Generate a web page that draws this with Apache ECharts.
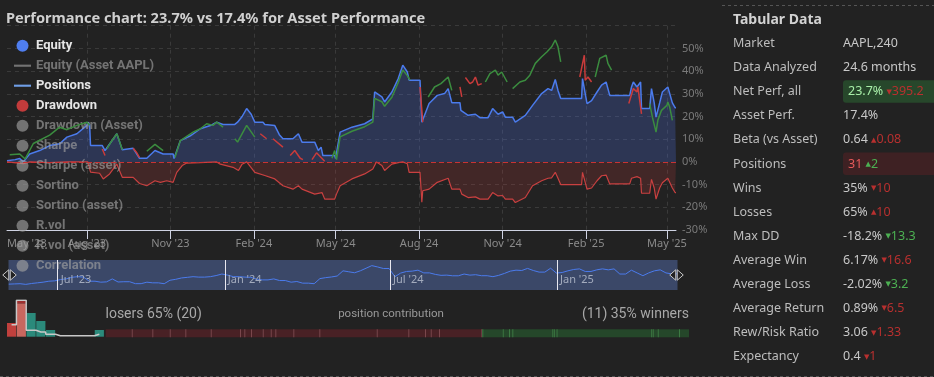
<!DOCTYPE html>
<html>
<head>
<meta charset="utf-8">
<style>
html,body{margin:0;padding:0;background:#222;}
#chart{width:934px;height:377px;}
</style>
<script src="https://cdn.jsdelivr.net/npm/echarts@6/dist/echarts.min.js"></script>
</head>
<body>
<div id="chart"></div>
<script>
// ---- data ----
const titleText = 'Performance chart: 23.7% vs 17.4% for Asset Performance';
const startDate = '2023-05-05';
const endDate = '2025-05-11';

const equity = [
  ['2023-05-05',0.5],['2023-05-14',1],['2023-05-19',1.5],['2023-05-23',0],['2023-05-27',2],['2023-05-30',3.5],
  ['2023-06-10',5],['2023-06-21',7.2],['2023-07-02',8],['2023-07-10',10.9],['2023-07-21',12.4],['2023-08-01',16.1],
  ['2023-08-02',17.5],['2023-08-04',16.5],['2023-08-05',7.2],['2023-08-18',7.2],['2023-08-21',5],['2023-08-23',5.7],
  ['2023-09-03',12.4],['2023-09-09',5.4],['2023-09-10',6],['2023-09-21',6],['2023-09-28',1.6],['2023-10-06',1.6],
  ['2023-10-15',5],['2023-10-24',3.5],['2023-11-04',3.5],['2023-11-05',1.5],['2023-11-12',9.4],['2023-11-23',11.5],
  ['2023-12-04',14.6],['2023-12-15',16],['2023-12-22',17.5],['2023-12-29',16.5],['2024-01-11',16.5],['2024-01-14',17.5],
  ['2024-01-19',20],['2024-01-24',23.5],['2024-01-29',21],['2024-02-02',17.5],['2024-02-11',17.5],['2024-02-13',16.5],
  ['2024-02-24',16],['2024-02-29',12],['2024-03-04',10.2],['2024-03-15',10.2],['2024-03-21',12.4],['2024-03-25',8.7],
  ['2024-04-08',8.7],['2024-04-12',5],['2024-04-15',6.5],['2024-04-17',2.8],['2024-04-30',2.8],['2024-05-01',1.5],
  ['2024-05-06',13.1],['2024-05-19',15.3],['2024-06-02',16.8],['2024-06-11',19],['2024-06-13',30.8],['2024-06-21',28.6],
  ['2024-06-24',26.4],['2024-07-02',30.8],['2024-07-09',36.7],['2024-07-14',42.6],['2024-07-19',39.6],['2024-07-21',36],
  ['2024-08-02',36],['2024-08-04',17.5],['2024-08-12',25.7],['2024-08-21',29.3],['2024-08-29',30.1],['2024-09-02',32.3],
  ['2024-09-06',26.1],['2024-09-15',26.1],['2024-09-16',22.7],['2024-09-24',20.5],['2024-10-02',21],['2024-10-07',19.5],
  ['2024-10-16',19.5],['2024-10-21',23.5],['2024-10-27',21],['2024-11-01',22],['2024-11-04',19.7],['2024-11-12',19.7],
  ['2024-11-15',17.5],['2024-11-26',20.5],['2024-12-04',24.9],['2024-12-14',30.1],['2024-12-21',32.3],['2024-12-25',31.5],
  ['2024-12-29',36.3],['2025-01-01',31.5],['2025-01-04',27.9],['2025-01-27',27.9],['2025-01-28',36.7],['2025-02-02',25.7],
  ['2025-02-07',27],['2025-02-13',30.8],['2025-02-18',33.8],['2025-02-23',35.2],['2025-02-27',29.3],['2025-03-21',29.3],
  ['2025-03-23',33],['2025-03-25',35.2],['2025-03-29',33],['2025-04-02',35.2],['2025-04-03',23.5],['2025-04-12',23.5],
  ['2025-04-14',32.3],['2025-04-17',26],['2025-04-19',19.7],['2025-04-23',26],['2025-04-26',30.8],['2025-05-02',33],
  ['2025-05-07',26],['2025-05-10',23.9],['2025-05-11',23.9]
];

const drawdown = [
  ['2023-05-05',0],['2023-05-23',-0.8],['2023-05-30',0],['2023-06-21',-0.3],['2023-07-10',0],['2023-08-02',0],
  ['2023-08-04',-0.5],['2023-08-05',-4.5],['2023-08-15',-5],['2023-08-19',-7.5],['2023-08-26',-5.3],['2023-09-03',-1],
  ['2023-09-09',-6.8],['2023-09-21',-6.8],['2023-09-28',-9.5],['2023-10-06',-10.5],['2023-10-15',-8.3],['2023-10-21',-9],
  ['2023-10-28',-8.3],['2023-11-04',-9],['2023-11-08',-4.6],['2023-11-14',-1.6],['2023-11-19',-0.5],['2023-12-04',-0.3],
  ['2023-12-22',0],['2023-12-26',-1],['2024-01-09',-2.4],['2024-01-11',-2.4],['2024-01-15',-3.8],['2024-01-19',-1],
  ['2024-01-24',0],['2024-02-02',-4.6],['2024-02-13',-6],['2024-02-24',-7.5],['2024-03-04',-10.5],['2024-03-15',-12],
  ['2024-03-21',-10.5],['2024-03-25',-12],['2024-04-08',-14.2],['2024-04-16',-13.5],['2024-04-19',-16.4],['2024-04-30',-16.4],
  ['2024-05-02',-14.2],['2024-05-06',-10.5],['2024-05-19',-7.5],['2024-06-02',-5.3],['2024-06-11',-3.1],['2024-06-15',0],
  ['2024-06-21',-1.6],['2024-06-24',-3.8],['2024-07-02',-1],['2024-07-09',-0.3],['2024-07-14',0],['2024-07-19',-0.8],
  ['2024-07-21',-4.6],['2024-08-02',-4.6],['2024-08-04',-17.8],['2024-08-05',-12.7],['2024-08-12',-12],['2024-08-21',-9],
  ['2024-09-02',-7.2],['2024-09-06',-12],['2024-09-15',-12],['2024-09-17',-14.2],['2024-09-24',-15.7],['2024-10-02',-15.4],
  ['2024-10-07',-16.4],['2024-10-16',-16.4],['2024-10-21',-13.5],['2024-10-27',-15],['2024-11-01',-14.8],['2024-11-04',-16.4],
  ['2024-11-12',-16.4],['2024-11-15',-17.9],['2024-11-26',-15.7],['2024-12-04',-10.5],['2024-12-14',-8.3],['2024-12-21',-7.2],
  ['2024-12-25',-7],['2024-12-29',-4.6],['2025-01-01',-7.2],['2025-01-04',-10],['2025-01-27',-10],['2025-01-28',-4.6],
  ['2025-02-02',-12],['2025-02-07',-11.5],['2025-02-13',-8.3],['2025-02-18',-6.1],['2025-02-23',-5.8],['2025-02-27',-9.7],
  ['2025-03-21',-9.7],['2025-03-23',-7.2],['2025-03-29',-6.5],['2025-04-02',-7.2],['2025-04-03',-13.8],['2025-04-12',-13.8],
  ['2025-04-14',-7.7],['2025-04-17',-11.5],['2025-04-19',-16.4],['2025-04-23',-11.5],['2025-04-26',-9.2],['2025-05-02',-7.2],
  ['2025-05-07',-11.5],['2025-05-10',-13.5],['2025-05-11',-13.5]
];

// asset path during each position, winners and losers
const winTrades = [
  [['2023-05-08',3.1],['2023-05-19',3.5],['2023-05-25',1.3],['2023-06-03',8.1],['2023-06-21',11.8],['2023-07-02',15.3],['2023-07-10',14.2],['2023-07-21',16.1],['2023-08-01',17.5],['2023-08-04',16.1]],
  [['2023-08-23',5.7],['2023-08-28',9],['2023-09-03',12.4],['2023-09-06',9],['2023-09-09',5.4]],
  [['2023-10-06',4.7],['2023-10-15',7.7],['2023-10-24',5.0]],
  [['2023-11-06',1.9],['2023-11-12',9.4],['2023-11-26',13.1],['2023-12-04',14.6],['2023-12-11',16.8],['2023-12-18',16.1],['2023-12-22',17.5],['2023-12-29',15.3]],
  [['2024-01-11',10.2],['2024-01-14',8.7],['2024-01-24',16.1],['2024-02-02',10.9]],
  [['2024-04-27',1.6],['2024-04-30',5],['2024-05-02',1],['2024-05-06',11],['2024-05-19',13.5],['2024-06-02',15.5],['2024-06-11',17.5],['2024-06-13',28],['2024-06-21',26.5],['2024-06-24',24.5],['2024-07-02',28.5],['2024-07-09',35],['2024-07-14',40.5],['2024-07-19',38],['2024-07-22',36]],
  [['2024-08-11',28.6],['2024-08-18',33],['2024-08-25',34.5],['2024-09-02',37.4],['2024-09-06',31.5]],
  [['2024-10-13',35.2],['2024-10-18',38.9],['2024-10-24',40.4],['2024-10-27',38.2],['2024-10-31',39.6],['2024-11-06',35.2]],
  [['2024-11-12',32.3],['2024-11-20',35.2],['2024-11-26',36],['2024-12-01',38.2],['2024-12-07',43.4],['2024-12-14',46.3],['2024-12-20',48.5],['2024-12-25',50.7],['2024-12-29',53.7],['2025-01-01',50.7],['2025-01-04',44.1]],
  [['2025-02-11',37.4],['2025-02-16',45.6],['2025-02-23',47],['2025-02-25',43.4],['2025-03-01',40.4]],
  [['2025-04-12',25.7],['2025-04-15',19.7],['2025-04-19',13.1],['2025-04-21',18.3],['2025-04-25',22.7],['2025-05-01',24.9],['2025-05-02',26.4],['2025-05-04',24.2],['2025-05-07',18.3]]
];
const lossTrades = [
  [['2023-08-18',5.7],['2023-08-21',2.8]],
  [['2023-09-21',6],['2023-09-25',4],['2023-09-28',1.9]],
  [['2024-02-08',12.4],['2024-02-15',10.2]],
  [['2024-02-22',10.2],['2024-03-04',6.5]],
  [['2024-03-12',2.8],['2024-03-17',5],['2024-03-23',1.6],['2024-03-26',1]],
  [['2024-04-05',1],['2024-04-10',4],['2024-04-19',0.3]],
  [['2024-08-02',33],['2024-08-05',17.5]],
  [['2024-09-15',33],['2024-09-17',28.6]],
  [['2024-09-21',37.2],['2024-09-26',34.5],['2024-09-29',35.2],['2024-10-02',37.4],['2024-10-05',33.8],['2024-10-09',34.5]],
  [['2025-01-25',37.4],['2025-01-30',47],['2025-01-31',36],['2025-02-03',37.4],['2025-02-07',35.2]],
  [['2025-03-20',25.7],['2025-03-25',32.3],['2025-03-29',30.8],['2025-03-30',33],['2025-04-03',21.2]]
];

const legendNames = ['Equity', 'Equity (Asset AAPL)', 'Positions', 'Drawdown', 'Drawdown (Asset)', 'Sharpe',
  'Sharpe (asset)', 'Sortino', 'Sortino (asset)', 'R.vol', 'R.vol (asset)', 'Correlation'];
const activeSeries = ['Equity', 'Positions', 'Drawdown'];
const lineIconSeries = ['Equity (Asset AAPL)', 'Positions'];

const mainTicks = ['2023-08-01', '2023-11-01', '2024-02-01', '2024-05-01', '2024-08-01', '2024-11-01', '2025-02-01', '2025-05-01'];
const sliderTicks = ['2023-07-01', '2024-01-01', '2024-07-01', '2025-01-01'];
const monthNames = ['Jan','Feb','Mar','Apr','May','Jun','Jul','Aug','Sep','Oct','Nov','Dec'];

// return distribution of positions (bin lower edge, %)
const histBins = [-6, -3, 0, 3, 6, 9, 12, 15, 18, 21];
const histBars = [13.7, 33.4, 23.7, 15.7, 6.7, 0, 0, 0, 0, 6.7];
const histBarsTop = [0, 2.3, 0, 0, 0, 0, 0, 0, 0, 0];
const histAsset = [12, 36.4, 6.4, 4.7, 2.4, 1, 1, 1, 1, 2.4];

// size of each position's contribution
const loserContrib = [2.6, 2.06, 1.74, 1.56, 2.54, 2.93, 0.43, 0.67, 1.17, 0.8, 0.46, 1.8, 2.6, 5.74, 3.16, 1.67, 0.57, 0.83, 4.23, 0.1];
const winnerContrib = [2.04, 0.63, 0.33, 4.0, 0.15, 0.27, 9.47, 0.15, 0.5, 2.13, 1.0];

const tableLabels = ['Market', 'Data Analyzed', 'Net Perf, all', 'Asset Perf.', 'Beta (vs Asset)', 'Positions', 'Wins',
  'Losses', 'Max DD', 'Average Win', 'Average Loss', 'Average Return', 'Rew/Risk Ratio', 'Expectancy'];
const tableValues = ['AAPL,240', '24.6 months', '23.7%', '17.4%', '0.64', '31', '35%', '65%', '-18.2%', '6.17%',
  '-2.02%', '0.89%', '3.06', '0.4'];
const tableDeltas = [null, null, -395.2, null, 0.08, 2, -10, 10, -13.3, -16.6, -3.2, -6.5, -1.33, -1];
const deltaGood = [null, null, false, null, false, true, false, false, true, false, true, false, false, false];
const cellHighlight = [null, null, 'good', null, null, 'bad', null, null, null, null, null, null, null, null];

// ---- chart ----
const FONT = 'Noto Sans';
const LINE_ICON = 'path://M0,0h16v2h-16z';
const toTime = s => +echarts.time.parse(s);
const fmtMonth = v => { const d = new Date(v); return monthNames[d.getMonth()] + " '" + String(d.getFullYear()).slice(2); };
const toPoints = arr => arr.map(([d, v]) => [toTime(d), v]);
const joinSegments = segs => {
  const out = [];
  segs.forEach(s => { toPoints(s).forEach(p => out.push(p)); out.push([toTime(s[s.length - 1][0]), '-']); });
  return out;
};

let acc = 0;
const contribSegs = loserContrib.map(v => [v, 0]).concat(winnerContrib.map(v => [v, 1])).map(([v, w]) => {
  const s = acc; acc += v; return [s, acc, w];
});
const contribTotal = acc;

const hiddenSeries = legendNames.filter(n => !activeSeries.includes(n) && n !== 'Equity (Asset AAPL)')
  .map(n => ({ name: n, type: 'line', data: [], xAxisIndex: 0, yAxisIndex: 0, color: '#888' }));

const graphics = [];
graphics.push({ type: 'text', x: 733, y: 20, style: { text: 'Tabular Data', fill: '#d2d2d2', font: 'bold 14px "Noto Sans"', verticalAlign: 'middle' } });
tableLabels.forEach((lab, i) => {
  const y = 43.5 + i * 24.1;
  const hl = cellHighlight[i];
  if (hl) {
    graphics.push({ type: 'rect', shape: { x: 843, y: y - 11.5, width: 100, height: 22.5, r: 3 },
      style: { fill: hl === 'good' ? '#27472b' : '#3e2123' } });
  }
  graphics.push({ type: 'text', x: 733, y: y, style: { text: lab, fill: '#bdbdbd', font: '12.5px "Noto Sans"', verticalAlign: 'middle' } });
  let txt = '{v|' + tableValues[i] + '}';
  const d = tableDeltas[i];
  if (d !== null) txt += ' {t|' + (d > 0 ? '▲' : '▼') + '}{d|' + Math.abs(d) + '}';
  const dc = deltaGood[i] ? '#4cb052' : '#b8302f';
  const vc = hl === 'good' ? '#a8eea8' : hl === 'bad' ? '#e65a5a' : '#c8c8c8';
  graphics.push({ type: 'text', x: hl ? 848 : 843, y: y, style: {
    text: txt, verticalAlign: 'middle',
    rich: {
      v: { fill: vc, fontSize: 12.5, fontFamily: FONT },
      t: { fill: dc, fontSize: 7, fontFamily: 'DejaVu Sans' },
      d: { fill: dc, fontSize: 12.5, fontFamily: FONT }
    }, fill: '#c8c8c8', fontSize: 12.5, fontFamily: FONT } });
});
graphics.push({ type: 'line', shape: { x1: 722, y1: 5.5, x2: 934, y2: 5.5 }, style: { stroke: '#555', lineDash: [3, 3] } });
graphics.push({ type: 'line', shape: { x1: 0, y1: 376.5, x2: 934, y2: 376.5 }, style: { stroke: '#555', lineDash: [3, 3] } });
graphics.push({ type: 'text', x: 105.5, y: 314.5, style: { text: 'losers 65% (20)', fill: '#a8a8a8', font: '14px Roboto', verticalAlign: 'middle' } });
graphics.push({ type: 'text', x: 391, y: 314.5, style: { text: 'position contribution', fill: '#999', font: '11.5px Roboto', align: 'center', verticalAlign: 'middle' } });
graphics.push({ type: 'text', x: 689, y: 314.5, style: { text: '(11) 35% winners', fill: '#a8a8a8', font: '14px Roboto', align: 'right', verticalAlign: 'middle' } });

const chart = echarts.init(document.getElementById('chart'));
chart.setOption({
  backgroundColor: '#222222',
  animation: false,
  title: { text: titleText, left: 6, top: 11, padding: 0,
    textStyle: { color: '#d0d0d0', fontSize: 14.6, fontWeight: 'bold', fontFamily: FONT } },
  legend: {
    orient: 'vertical', left: 14, top: 38.7, padding: 0, itemWidth: 17, itemHeight: 12, itemGap: 6,
    textStyle: { color: '#e6e6e6', fontSize: 13, fontWeight: 'bold', fontFamily: 'Roboto', lineHeight: 14 },
    inactiveColor: 'rgba(160,160,160,0.65)',
    data: legendNames.map(n => {
      const item = { name: n, icon: lineIconSeries.includes(n) ? LINE_ICON : 'circle' };
      if (n === 'Positions') item.itemStyle = { color: '#6f9ee6' };
      return item;
    }),
    selected: Object.fromEntries(legendNames.map(n => [n, activeSeries.includes(n)]))
  },
  grid: [
    { left: 7, right: 258, top: 25.7, bottom: 147, outerBoundsMode: 'none' },
    { left: 6, right: 259, top: 260, height: 30, outerBoundsMode: 'none' },
    { left: 6.7, top: 300, width: 97.5, height: 36.7, outerBoundsMode: 'none' },
    { left: 105.7, top: 329.3, width: 583.3, height: 8, outerBoundsMode: 'none' }
  ],
  xAxis: [
    { type: 'value', gridIndex: 0, min: toTime(startDate), max: toTime(endDate),
      axisLine: { onZero: false, lineStyle: { color: '#cfd3e3', width: 1 } },
      axisTick: { show: true, length: 9, customValues: mainTicks.map(toTime), lineStyle: { color: '#cfd3e3' } },
      axisLabel: { customValues: [startDate].concat(mainTicks).map(toTime), formatter: fmtMonth, color: '#8a8a8a',
        fontSize: 11, fontFamily: FONT, margin: 8, alignMinLabel: 'left', hideOverlap: false },
      splitLine: { show: true, lineStyle: { color: '#3a3a3a', type: [4, 4] } } },
    { type: 'value', gridIndex: 1, min: toTime(startDate), max: toTime(endDate), z: 10,
      axisLine: { show: false, onZero: false },
      axisTick: { show: true, inside: true, length: 30, customValues: sliderTicks.map(toTime), lineStyle: { color: '#e8e8f0', width: 1 } },
      axisLabel: { inside: true, customValues: sliderTicks.map(toTime), formatter: fmtMonth, color: '#a3abbd',
        fontSize: 11, fontFamily: FONT, align: 'left', margin: 5, padding: [0, 0, 0, 3] },
      splitLine: { show: false } },
    { type: 'category', gridIndex: 2, data: histBins, show: false },
    { type: 'value', gridIndex: 3, min: 0, max: contribTotal, show: false }
  ],
  yAxis: [
    { type: 'value', gridIndex: 0, position: 'right', min: -30, max: 60, interval: 10,
      axisLine: { show: false }, axisTick: { show: false },
      axisLabel: { formatter: '{value}%', color: '#7a7a7a', fontSize: 11, fontFamily: FONT, margin: 6, showMaxLabel: false },
      splitLine: { lineStyle: { color: '#3a3a3a', type: [4, 4] } } },
    { type: 'value', gridIndex: 1, show: false },
    { type: 'value', gridIndex: 2, min: 0, max: 36.7, show: false },
    { type: 'value', gridIndex: 3, min: 0, max: 1, show: false }
  ],
  dataZoom: [{
    type: 'slider', xAxisIndex: 0, left: 6, right: 259, top: 260, height: 30,
    start: 0, end: 100, showDetail: false, moveHandleSize: 0, brushSelect: false,
    backgroundColor: '#3b4868', fillerColor: 'rgba(0,0,0,0)', borderColor: 'transparent',
    dataBackground: { lineStyle: { color: '#4b7bec', width: 1, opacity: 1 }, areaStyle: { opacity: 0 } },
    selectedDataBackground: { lineStyle: { color: '#4b7bec', width: 1, opacity: 1 }, areaStyle: { opacity: 0 } },
    handleIcon: 'path://M-1,0L-9,7L-1,14ZM1,0L9,7L1,14Z', handleSize: '45%',
    handleStyle: { color: '#222', borderColor: '#c8c8c8', borderWidth: 1 }
  }],
  graphic: graphics,
  series: [
    { name: 'Equity', type: 'line', xAxisIndex: 0, yAxisIndex: 0, data: toPoints(equity), showSymbol: false, z: 2,
      color: '#4f7ef0', lineStyle: { color: '#4b7bec', width: 1.5 },
      areaStyle: { color: 'rgba(72,102,205,0.42)' } },
    { name: 'Equity (Asset AAPL)', type: 'line', xAxisIndex: 0, yAxisIndex: 0, data: [], color: '#888' },
    { name: 'Positions', type: 'line', xAxisIndex: 0, yAxisIndex: 0, data: joinSegments(winTrades), showSymbol: false,
      connectNulls: false, z: 4, color: '#6f9ee6', lineStyle: { color: '#3b8c3f', width: 1.5 } },
    { name: 'Positions', type: 'line', xAxisIndex: 0, yAxisIndex: 0, data: joinSegments(lossTrades), showSymbol: false,
      connectNulls: false, z: 4, color: '#6f9ee6', lineStyle: { color: '#c93b3b', width: 1.5 } },
    { name: 'Drawdown', type: 'line', xAxisIndex: 0, yAxisIndex: 0, data: toPoints(drawdown), showSymbol: false, z: 2,
      color: '#c23b3b', lineStyle: { color: '#c94040', width: 1.2 },
      areaStyle: { color: 'rgba(190,60,60,0.3)' },
      markLine: { silent: true, symbol: 'none', label: { show: false },
        lineStyle: { color: '#c83333', type: [5, 3], width: 1.2 }, data: [{ yAxis: 0 }] } },
    ...hiddenSeries,
    { type: 'bar', xAxisIndex: 2, yAxisIndex: 2, stack: 'hist', barWidth: '94%', silent: true,
      data: histBars.map((v, i) => ({ value: v, itemStyle: { color: histBins[i] < -3 ? '#c0403d' : histBins[i] < 0 ? '#c8675f' : '#2b8a7b' } })) },
    { type: 'bar', xAxisIndex: 2, yAxisIndex: 2, stack: 'hist', barWidth: '94%', silent: true,
      data: histBarsTop, itemStyle: { color: '#9e2f2f' } },
    { type: 'line', xAxisIndex: 2, yAxisIndex: 2, data: histAsset, step: 'middle', showSymbol: false, silent: true,
      lineStyle: { color: '#c8c8c8', width: 1.5 }, z: 5 },
    { type: 'custom', xAxisIndex: 3, yAxisIndex: 3, data: contribSegs, silent: true,
      renderItem: (params, api) => {
        const p0 = api.coord([api.value(0), 1]);
        const p1 = api.coord([api.value(1), 0]);
        const win = api.value(2) === 1;
        const children = [{ type: 'rect', shape: { x: p0[0], y: p0[1], width: p1[0] - p0[0], height: p1[1] - p0[1] },
          style: { fill: win ? '#25472a' : '#492125' } }];
        if (params.dataIndex > 0) {
          children.push({ type: 'rect', shape: { x: p0[0], y: p0[1], width: 1, height: p1[1] - p0[1] },
            style: { fill: win ? '#3d7a43' : '#7a474c' } });
        }
        return { type: 'group', children };
      } }
  ]
});
</script>
</body>
</html>
